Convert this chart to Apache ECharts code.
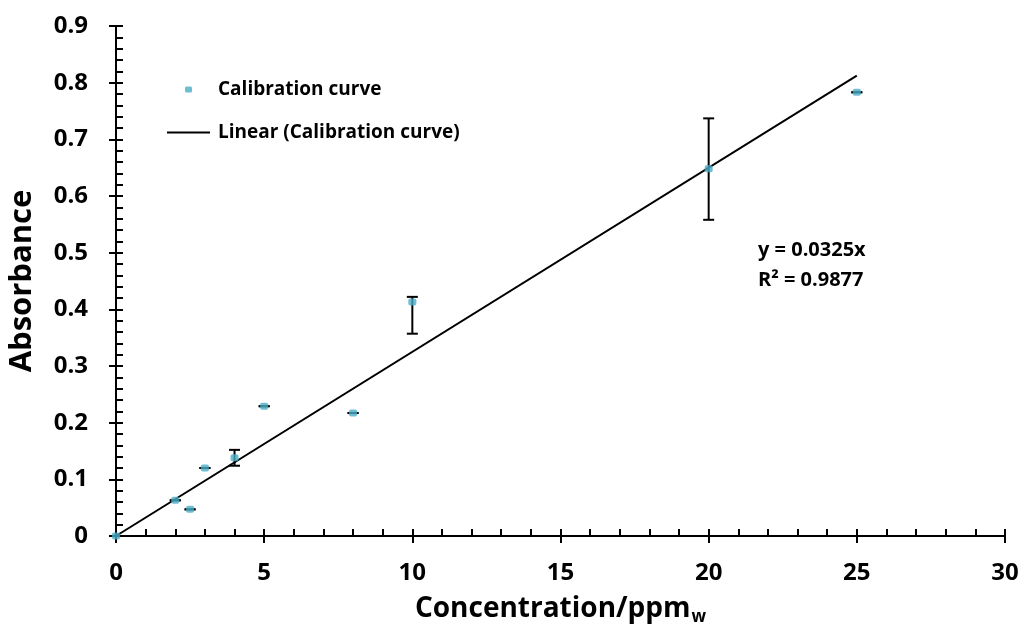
<!DOCTYPE html>
<html><head><meta charset="utf-8">
<script src="https://cdn.jsdelivr.net/npm/echarts@6/dist/echarts.min.js"></script>
<style>html,body{margin:0;padding:0;background:#fff}#c{width:1022px;height:626px}</style>
</head><body><div id="c"></div>
<script>
const concentration = [0, 2, 2.5, 3, 4, 5, 8, 10, 20, 25];
const absorbance = [0, 0.063, 0.047, 0.12, 0.138, 0.229, 0.217, 0.413, 0.648, 0.783];
const errLow = [0, 0.063, 0.047, 0.12, 0.124, 0.229, 0.217, 0.357, 0.558, 0.783];
const errHigh = [0, 0.063, 0.047, 0.12, 0.152, 0.229, 0.217, 0.422, 0.737, 0.783];
const trendX = [0, 25];
const trendY = [0, 0.8125];
const xTicks = [0, 5, 10, 15, 20, 25, 30];
const yTicks = [0, 0.1, 0.2, 0.3, 0.4, 0.5, 0.6, 0.7, 0.8, 0.9];

const FONT = '"Open Sans", sans-serif';
const chart = echarts.init(document.getElementById('c'));
const teal = '#4BACC6';

chart.setOption({
  animation:false,
  grid:{left:116, right:17, top:26, bottom:90, containLabel:false, outerBoundsMode:'none'},
  legend:[
    {data:[{name:'Calibration curve', icon:'roundRect'}], left:180, top:75, itemWidth:7, itemHeight:6,
     textStyle:{fontFamily:FONT, fontWeight:'bold', fontSize:19, color:'#000', padding:[0,0,0,21]}},
    {data:[{name:'Linear (Calibration curve)', icon:'path://M0,0L43,0L43,2L0,2Z'}], left:162, top:118, itemWidth:43, itemHeight:2,
     textStyle:{fontFamily:FONT, fontWeight:'bold', fontSize:19, color:'#000', padding:[0,0,0,3]}}
  ],
  xAxis:[
    {type:'value', min:0, max:30, interval:5,
     axisLine:{show:true, lineStyle:{color:'#000', width:2}},
     axisTick:{show:true, inside:false, length:7, lineStyle:{color:'#000', width:2}},
     splitLine:{show:false},
     axisLabel:{fontFamily:FONT, fontWeight:'bold', fontSize:24, color:'#000', margin:25,
       formatter:v=>xTicks.indexOf(v)>=0?String(v):''},
     name:'{a|Concentration/ppm}{b|w}', nameLocation:'middle', nameGap:57,
     nameTextStyle:{rich:{a:{fontFamily:FONT, fontWeight:'bold', fontSize:28, color:'#000'},
       b:{fontFamily:FONT, fontWeight:'bold', fontSize:17, color:'#000', padding:[16,0,0,1]}}}},
    {type:'value', min:0, max:30, interval:1, position:'bottom',
     axisLine:{show:false}, axisLabel:{show:false}, splitLine:{show:false},
     axisTick:{show:true, inside:true, length:7, lineStyle:{color:'#000', width:2}}}
  ],
  yAxis:[
    {type:'value', min:0, max:0.9, interval:0.1,
     axisLine:{show:true, lineStyle:{color:'#000', width:2}},
     axisTick:{show:true, inside:false, length:7, lineStyle:{color:'#000', width:2}},
     splitLine:{show:false},
     axisLabel:{fontFamily:FONT, fontWeight:'bold', fontSize:24, color:'#000', margin:28,
       formatter:v=>{const r=Math.round(v*10)/10; return yTicks.indexOf(r)>=0?(r===0?'0':r.toFixed(1)):'';}},
     name:'Absorbance', nameLocation:'middle', nameGap:78, nameRotate:90,
     nameTextStyle:{fontFamily:FONT, fontWeight:'bold', fontSize:31, color:'#000'}},
    {type:'value', min:0, max:0.9, interval:0.02, position:'left',
     axisLine:{show:false}, axisLabel:{show:false}, splitLine:{show:false},
     axisTick:{show:true, inside:true, length:7, lineStyle:{color:'#000', width:2}}}
  ],
  series:[
    {name:'Linear (Calibration curve)', type:'line', data:trendX.map((x,i)=>[x,trendY[i]]),
     symbol:'none', lineStyle:{color:'#000', width:2}, itemStyle:{color:'#000'}, z:3},
    {name:'Error', type:'custom', data:concentration.map((x,i)=>[x,errLow[i],errHigh[i]]),
     renderItem:(params, api)=>{
       const lo = api.coord([api.value(0), api.value(1)]);
       const hi = api.coord([api.value(0), api.value(2)]);
       const w = 5.5;
       const st = {stroke:'#000', lineWidth:2};
       return {type:'group', children:[
         {type:'line', shape:{x1:lo[0],y1:lo[1],x2:hi[0],y2:hi[1]}, style:st},
         {type:'line', shape:{x1:lo[0]-w,y1:lo[1],x2:lo[0]+w,y2:lo[1]}, style:st},
         {type:'line', shape:{x1:hi[0]-w,y1:hi[1],x2:hi[0]+w,y2:hi[1]}, style:st}
       ]};
     }, z:4, silent:true},
    {name:'Calibration curve', type:'scatter', data:concentration.map((x,i)=>[x,absorbance[i]]),
     symbol:'roundRect', symbolSize:[8,7], itemStyle:{color:teal}, z:5}
  ],
  graphic:[
    {type:'text', left:758, top:240, style:{text:'y = 0.0325x', fontFamily:FONT, fontWeight:'bold', fontSize:20, fill:'#000'}},
    {type:'text', left:758, top:270, style:{text:'R² = 0.9877', fontFamily:FONT, fontWeight:'bold', fontSize:20, fill:'#000'}}
  ]
});
</script></body></html>
